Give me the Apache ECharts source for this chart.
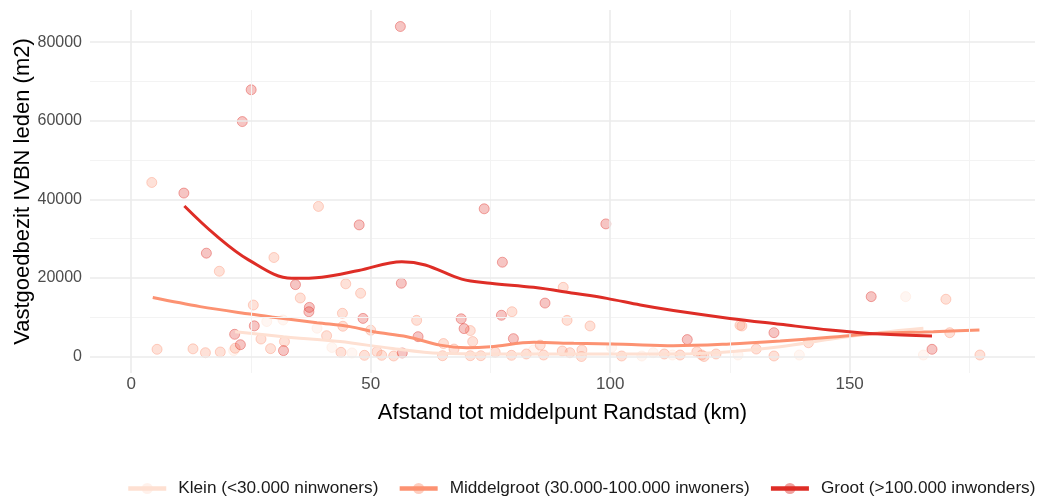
<!DOCTYPE html>
<html>
	<head>
		<meta charset="utf-8">
		<title>Vastgoedbezit IVBN</title>
		<script src="https://cdn.jsdelivr.net/npm/echarts@6/dist/echarts.min.js"></script>
	</head>
	<body style="margin:0">
		<div id="box" style="width: 1041px;height: 497px;"></div>
		<script>
			// punten: [afstand km, m2]
			var kleinPoints = [[21.4, 1500], [28.3, 8900], [31.7, 9300], [38.8, 7200], [41.9, 2300], [46.1, 900],
				[84, 1650], [100.3, 2300], [106.6, 130], [109, 970], [113, 380], [126.7, 380], [139.5, 380],
				[161.7, 15240], [165.4, 380]]
			var middelPoints = [[4.3, 44300], [5.4, 1830], [12.9, 1950], [15.5, 970], [18.6, 1150], [18.4, 21700],
				[21.7, 2100], [25.5, 13100], [27.1, 4450], [29.1, 2000], [29.8, 25200], [32, 3800], [35.3, 14900],
				[39.1, 38200], [40.8, 5300], [43.8, 1070], [44.1, 11000], [44.2, 7700], [44.8, 18500], [47.9, 16100],
				[48.7, 300], [50, 6700], [51.3, 1220], [52.3, 300], [54.8, 130], [59.6, 9200], [65, 200], [65.2, 3300],
				[67.4, 1900], [70.8, 6600], [70.8, 200], [71.3, 3800], [73, 200], [76, 1070], [79.4, 300], [79.5, 11400],
				[82.5, 640], [85.4, 2900], [86.1, 380], [90, 1400], [90.2, 17600], [91, 9200], [91.6, 970], [94.1, 1650],
				[94, 0], [95.8, 7770], [102.4, 130], [111.3, 640], [114.6, 380], [118.1, 1220], [119.1, 380], [119.6, 0],
				[122.1, 640], [127.5, 7770], [127.1, 7950], [130.5, 1900], [134.2, 130], [141.4, 3500], [170.1, 14570],
				[170.9, 6060], [177.2, 380]]
			var grootPoints = [[11, 41600], [15.7, 26300], [21.6, 5650], [22.8, 3000], [23.2, 59800], [25.05, 67900],
				[25.7, 7800], [31.8, 1500], [34.3, 18300], [37.2, 12500], [37.1, 11400], [47.6, 33500], [48.4, 9700],
				[56.2, 84000], [56.4, 18650], [56.6, 900], [59.9, 5050], [68.9, 9600], [69.5, 7100], [73.7, 37600],
				[77.3, 10500], [77.5, 24000], [79.8, 4550], [86.4, 13600], [99.1, 33750], [116.1, 4300], [134.2, 6060],
				[154.5, 15240], [167.2, 1830]]

			var kleinCurve = [[21.7, 6300], [31.8, 5050], [43.6, 3800], [54.1, 2100], [64.5, 800], [75, 640],
				[92.3, 640], [106.3, 640], [116.7, 700], [125, 1200], [135.5, 2500], [145.9, 4400], [156.4, 6100], [165.4, 7200]]
			var middelCurve = [[4.5, 15000], [14.4, 12700], [24.8, 10800], [29.7, 10000], [38.8, 8600], [45.7, 7600],
				[50.6, 6300], [57.6, 5050], [64.5, 2900], [70.1, 2250], [75, 2500], [84.1, 3600], [92.4, 3350],
				[102.8, 3100], [113.2, 2750], [125, 3200], [135.5, 3950], [145.9, 4900], [156.4, 5900], [167.5, 6300], [177.1, 6750]]
			var grootCurve = [[11.1, 38300], [17.5, 31000], [24.5, 24600], [33.5, 19900], [39.8, 20200], [47.5, 21900],
				[56.5, 24150], [61.4, 23300], [69, 19700], [75, 18650], [84, 17600], [92.4, 16100], [99.3, 14800],
				[106.3, 13100], [113.2, 11700], [125, 9700], [135.5, 8200], [145.9, 6750], [156.4, 5700], [167.2, 5200]]

			var xTicks = [0, 50, 100, 150]
			var xMinor = [25, 75, 125, 175]
			var yTicks = [0, 20000, 40000, 60000, 80000]
			var yMinor = [10000, 30000, 50000, 70000]

			var names = ['Klein (<30.000 ninwoners)', 'Middelgroot (30.000-100.000 inwoners)', 'Groot (>100.000 inwonders)']
			var colors = [[254, 224, 210], [252, 146, 114], [222, 45, 38]]
			function rgba(c, a) {
				return 'rgba(' + c[0] + ',' + c[1] + ',' + c[2] + ',' + a + ')'
			}

			var major = { color: '#ebebeb', width: 1.6, type: 'solid' }
			var minor = { color: '#f3f3f3', width: 1, type: 'solid' }
			var gridLines = []
			xMinor.forEach(function (v) { gridLines.push({ xAxis: v, lineStyle: minor }) })
			yMinor.forEach(function (v) { gridLines.push({ yAxis: v, lineStyle: minor }) })
			xTicks.forEach(function (v) { gridLines.push({ xAxis: v, lineStyle: major }) })
			yTicks.forEach(function (v) { gridLines.push({ yAxis: v, lineStyle: major }) })

			var curves = [kleinCurve, middelCurve, grootCurve]
			var points = [kleinPoints, middelPoints, grootPoints]
			var series = [{
				type: 'line', data: [], z: 0, silent: true,
				markLine: { silent: true, symbol: ['none', 'none'], label: { show: false }, animation: false,
					lineStyle: { type: 'solid' }, emphasis: { disabled: true }, data: gridLines }
			}]
			for (var i = 0; i < 3; i++) {
				series.push({
					name: names[i], type: 'line', data: curves[i], smooth: 0.35, z: 3 + i,
					symbol: 'circle', symbolSize: 9, showSymbol: false,
					itemStyle: { color: rgba(colors[i], 0.45) },
					lineStyle: { color: rgba(colors[i], 1), width: 3 }
				})
			}
			for (var j = 0; j < 3; j++) {
				series.push({
					name: names[j], type: 'scatter', data: points[j], symbolSize: 10, z: 2,
					itemStyle: { color: rgba(colors[j], 0.35), borderColor: rgba(colors[j], 0.5), borderWidth: 1 }
				})
			}

			var mCharts = echarts.init(document.querySelector('#box'))
			var option = {
				animation: false,
				grid: { left: 90, right: 6, top: 10, bottom: 124, containLabel: false, outerBoundsMode: 'none' },
				xAxis: {
					type: 'value', min: -8.6, max: 188.7,
					name: 'Afstand tot middelpunt Randstad (km)', nameLocation: 'middle', nameGap: 29,
					nameTextStyle: { color: '#000', fontSize: 22, fontFamily: 'Liberation Sans' },
					axisLine: { show: false }, axisTick: { show: false }, splitLine: { show: false },
					axisLabel: { customValues: xTicks, color: '#4d4d4d', fontSize: 17, margin: 3, fontFamily: 'Liberation Sans' }
				},
				yAxis: {
					type: 'value', min: -4200, max: 88200,
					name: 'Vastgoedbezit IVBN leden (m2)', nameLocation: 'middle', nameGap: 56, nameMoveOverlap: false,
					nameTextStyle: { color: '#000', fontSize: 22, fontFamily: 'Liberation Sans' },
					axisLine: { show: false }, axisTick: { show: false }, splitLine: { show: false },
					axisLabel: { customValues: yTicks, color: '#4d4d4d', fontSize: 16, margin: 8, fontFamily: 'Liberation Sans',
						formatter: function (v) { return String(v) } }
				},
				legend: {
					data: names, left: 121, top: 475, width: 1000, itemWidth: 38, itemHeight: 14, itemGap: 19,
					lineStyle: { width: 4.5 },
					textStyle: { color: '#1a1a1a', fontSize: 17.2, fontFamily: 'Liberation Sans', padding: [0, 0, 0, 7] }
				},
				series: series
			}
			mCharts.setOption(option)
		</script>
	</body>
</html>
